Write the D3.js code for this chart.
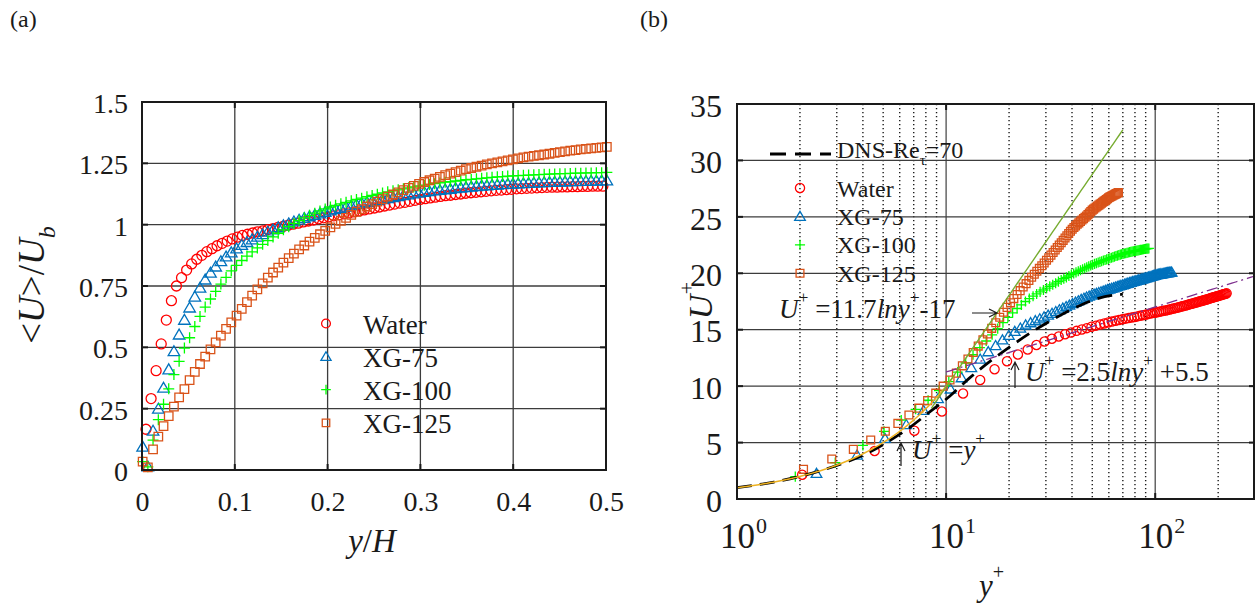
<!DOCTYPE html>
<html>
<head>
<meta charset="utf-8">
<script src="https://cdn.jsdelivr.net/npm/d3@7"></script>
<style>
  html, body { margin: 0; padding: 0; background: #fff; }
  svg { display: block; }
  text { white-space: pre; }
</style>
</head>
<body>
<svg id="fig" width="1256" height="604"></svg>
<script>
// ------------------------------------------------------------------
// Data
// ------------------------------------------------------------------
const seriesNames = ["Water", "XG-75", "XG-100", "XG-125"];

// (a) mean streamwise velocity across the half channel
const yHWater = [0.0043,0.0098,0.0152,0.0207,0.0262,0.0317,0.0371,0.0426,0.0481,0.0535,
  0.0590,0.0645,0.0699,0.0754,0.0809,0.0864,0.0918,0.0973,0.1028,0.1082,
  0.1137,0.1192,0.1246,0.1301,0.1356,0.1411,0.1465,0.1520,0.1575,0.1629,
  0.1684,0.1739,0.1793,0.1848,0.1903,0.1958,0.2012,0.2067,0.2122,0.2176,
  0.2231,0.2286,0.2340,0.2395,0.2450,0.2505,0.2559,0.2614,0.2669,0.2723,
  0.2778,0.2833,0.2887,0.2942,0.2997,0.3052,0.3106,0.3161,0.3216,0.3270,
  0.3325,0.3380,0.3434,0.3489,0.3544,0.3599,0.3653,0.3708,0.3763,0.3817,
  0.3872,0.3927,0.3981,0.4036,0.4091,0.4146,0.4200,0.4255,0.4310,0.4364,
  0.4419,0.4474,0.4528,0.4583,0.4638,0.4693,0.4747,0.4802,0.4857,0.4911,
  0.4966];
const uWater = [0.166,0.291,0.405,0.514,0.611,0.690,0.750,0.784,0.815,0.840,
  0.859,0.875,0.890,0.902,0.914,0.924,0.933,0.942,0.949,0.956,
  0.961,0.966,0.971,0.975,0.980,0.984,0.989,0.993,0.998,1.002,
  1.006,1.011,1.015,1.019,1.024,1.028,1.032,1.036,1.040,1.044,
  1.048,1.052,1.056,1.060,1.064,1.068,1.072,1.076,1.080,1.084,
  1.088,1.091,1.095,1.099,1.103,1.106,1.109,1.112,1.115,1.118,
  1.120,1.123,1.125,1.128,1.130,1.132,1.134,1.136,1.138,1.140,
  1.141,1.143,1.144,1.146,1.147,1.148,1.149,1.150,1.151,1.152,
  1.153,1.153,1.154,1.154,1.155,1.155,1.156,1.156,1.157,1.157,
  1.157];

const yHXG = [0.0007,0.0063,0.0119,0.0176,0.0232,0.0288,0.0344,0.0400,0.0457,0.0513,
  0.0569,0.0625,0.0681,0.0738,0.0794,0.0850,0.0906,0.0962,0.1019,0.1075,
  0.1131,0.1187,0.1243,0.1300,0.1356,0.1412,0.1468,0.1524,0.1581,0.1637,
  0.1693,0.1749,0.1805,0.1862,0.1918,0.1974,0.2030,0.2086,0.2143,0.2199,
  0.2255,0.2311,0.2367,0.2424,0.2480,0.2536,0.2592,0.2648,0.2705,0.2761,
  0.2817,0.2873,0.2929,0.2986,0.3042,0.3098,0.3154,0.3210,0.3267,0.3323,
  0.3379,0.3435,0.3491,0.3548,0.3604,0.3660,0.3716,0.3772,0.3829,0.3885,
  0.3941,0.3997,0.4053,0.4110,0.4166,0.4222,0.4278,0.4334,0.4391,0.4447,
  0.4503,0.4559,0.4615,0.4672,0.4728,0.4784,0.4840,0.4896,0.4953,0.5009];
const uXG75 = [0.095,0.014,0.160,0.250,0.335,0.410,0.484,0.552,0.612,0.662,
  0.706,0.743,0.776,0.804,0.829,0.851,0.870,0.887,0.903,0.917,
  0.929,0.940,0.951,0.961,0.971,0.980,0.989,0.997,1.005,1.013,
  1.020,1.027,1.034,1.040,1.046,1.052,1.058,1.063,1.068,1.073,
  1.078,1.083,1.088,1.092,1.096,1.100,1.104,1.108,1.112,1.116,
  1.120,1.123,1.127,1.130,1.133,1.136,1.139,1.141,1.144,1.146,
  1.149,1.151,1.153,1.155,1.157,1.159,1.160,1.162,1.163,1.165,
  1.166,1.167,1.168,1.169,1.170,1.171,1.172,1.173,1.174,1.175,
  1.175,1.176,1.177,1.177,1.178,1.178,1.179,1.179,1.180,1.180];
const uXG100 = [0.034,0.013,0.122,0.205,0.268,0.331,0.389,0.443,0.497,0.539,
  0.585,0.626,0.664,0.697,0.728,0.758,0.785,0.812,0.834,0.854,
  0.872,0.889,0.905,0.920,0.935,0.950,0.965,0.979,0.992,1.005,
  1.017,1.028,1.038,1.047,1.056,1.064,1.072,1.079,1.085,1.091,
  1.097,1.103,1.108,1.114,1.119,1.124,1.129,1.134,1.138,1.142,
  1.146,1.150,1.154,1.158,1.161,1.164,1.167,1.170,1.173,1.175,
  1.178,1.180,1.183,1.185,1.187,1.189,1.191,1.193,1.195,1.196,
  1.198,1.199,1.200,1.201,1.202,1.203,1.204,1.205,1.206,1.207,
  1.208,1.208,1.209,1.210,1.210,1.211,1.211,1.212,1.212,1.213];
const uXG125 = [0.034,0.011,0.084,0.136,0.179,0.220,0.258,0.296,0.330,0.366,
  0.400,0.432,0.462,0.492,0.520,0.548,0.575,0.602,0.629,0.657,
  0.684,0.711,0.736,0.761,0.784,0.805,0.825,0.845,0.864,0.882,
  0.899,0.915,0.931,0.946,0.961,0.975,0.989,1.003,1.016,1.028,
  1.040,1.052,1.063,1.074,1.084,1.094,1.104,1.114,1.123,1.132,
  1.141,1.150,1.158,1.166,1.174,1.181,1.188,1.195,1.202,1.208,
  1.214,1.220,1.226,1.231,1.236,1.241,1.246,1.250,1.254,1.258,
  1.262,1.266,1.270,1.274,1.277,1.280,1.283,1.286,1.289,1.293,
  1.296,1.299,1.302,1.304,1.307,1.309,1.311,1.313,1.315,1.317];

// (b) the same profiles in wall units
const ypWater = [2.05,4.55,7.05,9.55,12.05,14.55,17.05,19.55,22.05,24.55,
  27.05,29.55,32.05,34.55,37.05,39.55,42.05,44.55,47.05,49.55,
  52.05,54.55,57.05,59.55,62.05,64.55,67.05,69.55,72.05,74.55,
  77.05,79.55,82.05,84.55,87.05,89.55,92.05,94.55,97.05,99.55,
  102.05,104.55,107.05,109.55,112.05,114.55,117.05,119.55,122.05,124.55,
  127.05,129.55,132.05,134.55,137.05,139.55,142.05,144.55,147.05,149.55,
  152.05,154.55,157.05,159.55,162.05,164.55,167.05,169.55,172.05,174.55,
  177.05,179.55,182.05,184.55,187.05,189.55,192.05,194.55,197.05,199.55,
  202.05,204.55,207.05,209.55,212.05,214.55,217.05,219.55];
const upWater = [2.15,4.25,6.05,7.75,9.35,10.55,11.50,12.20,12.80,13.25,
  13.65,13.95,14.20,14.40,14.60,14.75,14.90,15.02,15.14,15.26,
  15.36,15.46,15.55,15.64,15.72,15.79,15.86,15.92,15.98,16.03,
  16.08,16.13,16.18,16.23,16.28,16.33,16.38,16.43,16.47,16.51,
  16.55,16.59,16.63,16.67,16.71,16.75,16.79,16.83,16.87,16.91,
  16.95,16.99,17.03,17.07,17.11,17.15,17.19,17.23,17.27,17.30,
  17.34,17.38,17.41,17.45,17.49,17.52,17.56,17.59,17.63,17.66,
  17.70,17.73,17.77,17.80,17.83,17.87,17.90,17.93,17.96,17.99,
  18.02,18.05,18.08,18.11,18.14,18.17,18.19,18.22];

const ypXG75 = [2.40,3.75,5.10,6.45,7.80,9.15,10.50,11.85,13.20,14.55,
  15.90,17.25,18.60,19.95,21.30,22.65,24.00,25.35,26.70,28.05,
  29.40,30.75,32.10,33.45,34.80,36.15,37.50,38.85,40.20,41.55,
  42.90,44.25,45.60,46.95,48.30,49.65,51.00,52.35,53.70,55.05,
  56.40,57.75,59.10,60.45,61.80,63.15,64.50,65.85,67.20,68.55,
  69.90,71.25,72.60,73.95,75.30,76.65,78.00,79.35,80.70,82.05,
  83.40,84.75,86.10,87.45,88.80,90.15,91.50,92.85,94.20,95.55,
  96.90,98.25,99.60,100.95,102.30,103.65,105.00,106.35,107.70,109.05,
  110.40,111.75,113.10,114.45,115.80,117.15,118.50,119.85];
const upXG75 = [2.27,3.90,5.37,6.60,7.85,8.90,9.75,10.75,11.65,12.40,
  13.05,13.60,14.10,14.50,14.85,15.15,15.42,15.62,15.80,15.97,
  16.13,16.29,16.45,16.61,16.77,16.91,17.05,17.18,17.31,17.44,
  17.56,17.68,17.79,17.89,17.98,18.07,18.15,18.22,18.29,18.36,
  18.42,18.48,18.55,18.61,18.67,18.72,18.78,18.83,18.88,18.93,
  18.98,19.03,19.08,19.12,19.17,19.21,19.26,19.30,19.34,19.38,
  19.41,19.45,19.48,19.52,19.55,19.59,19.62,19.66,19.69,19.73,
  19.76,19.80,19.83,19.86,19.88,19.90,19.92,19.94,19.96,19.98,
  20.00,20.02,20.04,20.05,20.07,20.08,20.09,20.10];

const ypXG100 = [1.90,2.95,4.00,5.05,6.10,7.15,8.20,9.25,10.30,11.35,
  12.40,13.45,14.50,15.55,16.60,17.65,18.70,19.75,20.80,21.85,
  22.90,23.95,25.00,26.05,27.10,28.15,29.20,30.25,31.30,32.35,
  33.40,34.45,35.50,36.55,37.60,38.65,39.70,40.75,41.80,42.85,
  43.90,44.95,46.00,47.05,48.10,49.15,50.20,51.25,52.30,53.35,
  54.40,55.45,56.50,57.55,58.60,59.65,60.70,61.75,62.80,63.85,
  64.90,65.95,67.00,68.05,69.10,70.15,71.20,72.25,73.30,74.35,
  75.40,76.45,77.50,78.55,79.60,80.65,81.70,82.75,83.80,84.85,
  85.90,86.95,88.00,89.05,90.10,91.15,92.20,93.25];
const upXG100 = [1.98,3.22,4.75,6.00,7.00,7.95,8.75,9.60,10.40,11.25,
  12.05,12.78,13.42,14.00,14.55,15.10,15.62,16.10,16.50,16.88,
  17.20,17.50,17.76,17.97,18.17,18.35,18.52,18.68,18.84,18.98,
  19.12,19.26,19.40,19.52,19.64,19.76,19.88,19.98,20.08,20.18,
  20.27,20.36,20.45,20.53,20.61,20.69,20.76,20.83,20.89,20.95,
  21.01,21.07,21.13,21.18,21.23,21.28,21.33,21.38,21.43,21.48,
  21.53,21.57,21.61,21.65,21.69,21.72,21.75,21.78,21.81,21.84,
  21.87,21.90,21.92,21.95,21.97,21.99,22.01,22.03,22.05,22.07,
  22.09,22.11,22.13,22.15,22.16,22.18,22.19,22.20];

const ypXG125 = [2.08,2.84,3.60,4.36,5.12,5.88,6.64,7.40,8.16,8.92,
  9.68,10.44,11.20,11.96,12.72,13.48,14.24,15.00,15.76,16.52,
  17.28,18.04,18.80,19.56,20.32,21.08,21.84,22.60,23.36,24.12,
  24.88,25.64,26.40,27.16,27.92,28.68,29.44,30.20,30.96,31.72,
  32.48,33.24,34.00,34.76,35.52,36.28,37.04,37.80,38.56,39.32,
  40.08,40.84,41.60,42.36,43.12,43.88,44.64,45.40,46.16,46.92,
  47.68,48.44,49.20,49.96,50.72,51.48,52.24,53.00,53.76,54.52,
  55.28,56.04,56.80,57.56,58.32,59.08,59.84,60.60,61.36,62.12,
  62.88,63.64,64.40,65.16,65.92,66.68];
const upXG125 = [2.63,3.55,4.40,5.23,6.00,6.70,7.44,8.05,8.72,9.38,
  10.00,10.55,11.15,11.80,12.40,12.98,13.55,14.10,14.62,15.12,
  15.62,16.10,16.55,16.98,17.38,17.76,18.12,18.46,18.78,19.08,
  19.37,19.65,19.92,20.18,20.43,20.67,20.91,21.15,21.38,21.61,
  21.84,22.06,22.28,22.50,22.71,22.92,23.13,23.33,23.53,23.72,
  23.90,24.06,24.20,24.34,24.47,24.60,24.72,24.84,24.96,25.08,
  25.20,25.33,25.47,25.60,25.69,25.78,25.87,25.96,26.04,26.13,
  26.21,26.29,26.37,26.45,26.53,26.61,26.69,26.75,26.80,26.86,
  26.91,26.96,27.01,27.06,27.11,27.15];

// DNS profile, Re_tau = 70
const dnsYp = [1, 1.5, 2, 2.5, 3.2, 4.2, 5.4, 6.6, 8.2, 10.4, 13, 16.5, 20.6, 25.2, 30, 35, 40, 45, 50, 55, 60, 66.7, 70];
const dnsUp = [1.0, 1.5, 2.0, 2.5, 3.15, 4.05, 5.2, 6.25, 7.6, 9.1, 10.75, 12.3, 13.6, 14.7, 15.55, 16.25, 16.8, 17.25, 17.6, 17.85, 18.0, 18.1, 18.15];

// wall laws: viscous sublayer, log law, fitted log line for XG-125
const viscousRange = [1, 11];
const logLawCoef = [2.5, 5.5];
const logLawRange = [10, 300];
const fitLawCoef = [11.7, -17];
const fitLawRange = [8.5, 70];

// ticks
const aXTicks = [0, 0.1, 0.2, 0.3, 0.4, 0.5];
const aYTicks = [0, 0.25, 0.5, 0.75, 1, 1.25, 1.5];
const bXTicks = [1, 10, 100];
const bXMinor = [2, 3, 4, 5, 6, 7, 8, 9, 20, 30, 40, 50, 60, 70, 80, 90, 200];
const bYTicks = [0, 5, 10, 15, 20, 25, 30, 35];

// ------------------------------------------------------------------
// Styling helpers
// ------------------------------------------------------------------
const SERIF = '"Liberation Serif","Times New Roman",Times,serif';
const INK = "#1a1a1a";
const seriesStyle = [
  { color: "#ff0000", marker: "circle" },
  { color: "#0072bd", marker: "triangle" },
  { color: "#00ff00", marker: "plus" },
  { color: "#d95319", marker: "square" }
];

function markerPath(type, s) {
  switch (type) {
    case "circle":
      return `M${s},0A${s},${s} 0 1,1 ${-s},0A${s},${s} 0 1,1 ${s},0Z`;
    case "triangle":
      return `M0,${-s}L${s * 1.05},${s * 0.8}L${-s * 1.05},${s * 0.8}Z`;
    case "plus":
      return `M${-s},0H${s}M0,${-s}V${s}`;
    case "square":
      return `M${-s},${-s}H${s}V${s}H${-s}Z`;
  }
}
const markerScale = { circle: 1, triangle: 1.1, plus: 1.1, square: 0.85 };

// text with italic parts, superscripts and subscripts
function richText(g, x, y, parts, size, opts = {}) {
  const t = g.append("text")
    .attr("x", x).attr("y", y)
    .attr("font-family", SERIF)
    .attr("font-size", size)
    .attr("fill", INK)
    .attr("text-anchor", opts.anchor || "start");
  if (opts.transform) t.attr("transform", opts.transform);
  let shift = 0;
  parts.forEach(p => {
    const ts = t.append("tspan").text(p.t);
    let target = 0;
    if (p.sup) target = -(opts.supShift || 0.55) * size;
    if (p.sub) target = 0.3 * size;
    if (p.sup || p.sub) ts.attr("font-size", size * (opts.scriptScale || 0.65));
    if (target !== shift) { ts.attr("dy", target - shift); shift = target; }
    if (p.it) ts.attr("font-style", "italic");
    if (p.dx) ts.attr("dx", p.dx);
  });
  return t;
}

const svg = d3.select("#fig");
svg.append("rect").attr("width", 1256).attr("height", 604).attr("fill", "#fff");

function drawMarkers(g, xs, ys, xScale, yScale, st, size) {
  const pts = d3.zip(xs, ys).filter(d => d[1] != null);
  g.append("g").selectAll("path").data(pts).join("path")
    .attr("transform", d => `translate(${xScale(d[0])},${yScale(d[1])})`)
    .attr("d", markerPath(st.marker, size * markerScale[st.marker]))
    .attr("fill", "none")
    .attr("stroke", st.color)
    .attr("stroke-width", 1.3);
}

function frameTicks(g, xScale, yScale, xt, yt, len) {
  const [x0, x1] = xScale.range();
  const [y1, y0] = yScale.range();
  const tk = g.append("g").attr("stroke", INK).attr("stroke-width", 2);
  yt.forEach(v => {
    tk.append("line").attr("x1", x0).attr("x2", x0 + len).attr("y1", yScale(v)).attr("y2", yScale(v));
    tk.append("line").attr("x1", x1 - len).attr("x2", x1).attr("y1", yScale(v)).attr("y2", yScale(v));
  });
  xt.forEach(v => {
    tk.append("line").attr("y1", y1).attr("y2", y1 - len).attr("x1", xScale(v)).attr("x2", xScale(v));
    tk.append("line").attr("y1", y0).attr("y2", y0 + len).attr("x1", xScale(v)).attr("x2", xScale(v));
  });
}

// ------------------------------------------------------------------
// (a) <U>/U_b versus y/H
// ------------------------------------------------------------------
const xA = d3.scaleLinear().domain([0, 0.5]).range([142, 606]);
const yA = d3.scaleLinear().domain([0, 1.5]).range([470, 102]);
const gA = svg.append("g");

// grid
gA.append("g").selectAll("line").data(aXTicks.slice(1, -1)).join("line")
  .attr("x1", d => xA(d)).attr("x2", d => xA(d))
  .attr("y1", yA.range()[1]).attr("y2", yA.range()[0])
  .attr("stroke", "#3c3c3c").attr("stroke-width", 1.3);
gA.append("g").selectAll("line").data(aYTicks.slice(1, -1)).join("line")
  .attr("y1", d => yA(d)).attr("y2", d => yA(d))
  .attr("x1", xA.range()[0]).attr("x2", xA.range()[1])
  .attr("stroke", "#3c3c3c").attr("stroke-width", 1.3);
frameTicks(gA, xA, yA, aXTicks.slice(1, -1), aYTicks.slice(1, -1), 6);

// axes labels via d3 axes
gA.append("g").attr("transform", `translate(${xA.range()[0]},0)`)
  .call(d3.axisLeft(yA).tickValues(aYTicks).tickSize(0).tickPadding(14).tickFormat(d => String(d)))
  .call(g => g.select(".domain").remove())
  .attr("font-family", SERIF).attr("font-size", 28)
  .call(g => g.selectAll("text").attr("fill", INK).attr("dy", "0.38em"));
gA.append("g").attr("transform", `translate(0,${yA.range()[0]})`)
  .call(d3.axisBottom(xA).tickValues(aXTicks).tickSize(0).tickPadding(21).tickFormat(d => String(d)))
  .call(g => g.select(".domain").remove())
  .attr("font-family", SERIF).attr("font-size", 28)
  .call(g => g.selectAll("text").attr("fill", INK));

// data
const aData = [[yHWater, uWater], [yHXG, uXG75], [yHXG, uXG100], [yHXG, uXG125]];
aData.forEach((d, i) => drawMarkers(gA, d[0], d[1], xA, yA, seriesStyle[i], 5));

// box
gA.append("rect")
  .attr("x", xA.range()[0]).attr("y", yA.range()[1])
  .attr("width", xA.range()[1] - xA.range()[0]).attr("height", yA.range()[0] - yA.range()[1])
  .attr("fill", "none").attr("stroke", INK).attr("stroke-width", 2);

// legend
seriesNames.forEach((name, i) => {
  const y = 323.5 + 33.1 * i;
  const st = seriesStyle[i];
  gA.append("path").attr("transform", `translate(326,${y})`)
    .attr("d", markerPath(st.marker, 4.4 * markerScale[st.marker]))
    .attr("fill", "none").attr("stroke", st.color).attr("stroke-width", 1.3);
  gA.append("text").attr("x", 363).attr("y", y + 10).text(name)
    .attr("font-family", SERIF).attr("font-size", 27).attr("fill", INK);
});

// titles
richText(gA, 372, 552, [{ t: "y", it: true }, { t: "/" }, { t: "H", it: true }], 33, { anchor: "middle" });
richText(gA, 0, 0, [{ t: "<" }, { t: "U", it: true }, { t: ">/" }, { t: "U", it: true }, { t: "b", it: true, sub: true }], 37,
  { anchor: "middle", transform: "translate(44,285) rotate(-90)" });
gA.append("text").attr("x", 10).attr("y", 27).text("(a)")
  .attr("font-family", SERIF).attr("font-size", 24).attr("fill", INK);

// ------------------------------------------------------------------
// (b) U+ versus y+
// ------------------------------------------------------------------
const xB = d3.scaleLog().domain([1, 300]).range([737, 1255]);
const yB = d3.scaleLinear().domain([0, 35]).range([499, 104]);
const gB = svg.append("g");

// grid
gB.append("g").selectAll("line").data(bXMinor).join("line")
  .attr("x1", d => xB(d)).attr("x2", d => xB(d))
  .attr("y1", yB.range()[1]).attr("y2", yB.range()[0])
  .attr("stroke", "#1a1a1a").attr("stroke-width", 1.4).attr("stroke-dasharray", "1.3,2.7");
gB.append("g").selectAll("line").data(bXTicks.slice(1)).join("line")
  .attr("x1", d => xB(d)).attr("x2", d => xB(d))
  .attr("y1", yB.range()[1]).attr("y2", yB.range()[0])
  .attr("stroke", "#5a5a5a").attr("stroke-width", 1.4);
gB.append("g").selectAll("line").data(bYTicks.slice(1, -1)).join("line")
  .attr("y1", d => yB(d)).attr("y2", d => yB(d))
  .attr("x1", xB.range()[0]).attr("x2", xB.range()[1])
  .attr("stroke", "#3c3c3c").attr("stroke-width", 1.3);
frameTicks(gB, xB, yB, bXTicks.slice(1), bYTicks.slice(1, -1), 6);

gB.append("g").attr("transform", `translate(${xB.range()[0]},0)`)
  .call(d3.axisLeft(yB).tickValues(bYTicks).tickSize(0).tickPadding(15).tickFormat(d => String(d)))
  .call(g => g.select(".domain").remove())
  .attr("font-family", SERIF).attr("font-size", 32)
  .call(g => g.selectAll("text").attr("fill", INK).attr("dy", "0.38em"));
// decade labels 10^n: base centred on the tick, exponent raised after it
gB.append("g").attr("transform", `translate(0,${yB.range()[0]})`)
  .call(d3.axisBottom(xB).tickValues(bXTicks).tickSize(0).tickFormat(() => ""))
  .call(g => g.select(".domain").remove())
  .call(g => g.selectAll(".tick text").remove())
  .call(g => g.selectAll(".tick").each(function (d) {
    const lbl = d3.select(this).append("text")
      .attr("x", -17.5).attr("y", 49).attr("text-anchor", "start")
      .attr("font-family", SERIF).attr("font-size", 35).attr("fill", INK);
    lbl.append("tspan").text("10");
    lbl.append("tspan").attr("dx", 1).attr("dy", -15).attr("font-size", 22)
      .text(String(Math.round(Math.log10(d))));
  }));

// data markers
const bData = [[ypWater, upWater], [ypXG75, upXG75], [ypXG100, upXG100], [ypXG125, upXG125]];
bData.forEach((d, i) => drawMarkers(gB, d[0], d[1], xB, yB, seriesStyle[i], 4.6));

// reference curves
const lineB = d3.line().x(d => xB(d[0])).y(d => yB(d[1]));
const logSpan = (r, n) => d3.range(n + 1).map(i => r[0] * Math.pow(r[1] / r[0], i / n));

gB.append("path").datum(d3.zip(dnsYp, dnsUp))
  .attr("d", lineB.curve(d3.curveMonotoneX))
  .attr("fill", "none").attr("stroke", "#000").attr("stroke-width", 2.8)
  .attr("stroke-dasharray", "15,8");
lineB.curve(d3.curveLinear);
gB.append("path").datum(logSpan(viscousRange, 60).map(y => [y, y]))
  .attr("d", lineB).attr("fill", "none").attr("stroke", "#edb120").attr("stroke-width", 1.5);
gB.append("path").datum(logSpan(logLawRange, 80).map(y => [y, logLawCoef[0] * Math.log(y) + logLawCoef[1]]))
  .attr("d", lineB).attr("fill", "none").attr("stroke", "#7e2f8e").attr("stroke-width", 1.3)
  .attr("stroke-dasharray", "11,4,2,4");
gB.append("path").datum(logSpan(fitLawRange, 60).map(y => [y, fitLawCoef[0] * Math.log(y) + fitLawCoef[1]]))
  .attr("d", lineB).attr("fill", "none").attr("stroke", "#77ac30").attr("stroke-width", 1.4);

// box
gB.append("rect")
  .attr("x", xB.range()[0]).attr("y", yB.range()[1])
  .attr("width", xB.range()[1] - xB.range()[0] - 1).attr("height", yB.range()[0] - yB.range()[1])
  .attr("fill", "none").attr("stroke", INK).attr("stroke-width", 2);

// legend
gB.append("line").attr("x1", 770).attr("x2", 831).attr("y1", 154).attr("y2", 154)
  .attr("stroke", "#000").attr("stroke-width", 2.8).attr("stroke-dasharray", "16,9");
richText(gB, 837, 158, [{ t: "DNS-Re" }, { t: "τ", sub: true }, { t: "=70" }], 24, { scriptScale: 0.62 });
seriesNames.forEach((name, i) => {
  const y = 188 + 28.4 * i;
  const st = seriesStyle[i];
  gB.append("path").attr("transform", `translate(800,${y})`)
    .attr("d", markerPath(st.marker, 4.6 * markerScale[st.marker]))
    .attr("fill", "none").attr("stroke", st.color).attr("stroke-width", 1.3);
  gB.append("text").attr("x", 837).attr("y", y + 8.5).text(name)
    .attr("font-family", SERIF).attr("font-size", 24).attr("fill", INK);
});

// annotations
const arrows = gB.append("g").attr("stroke", INK).attr("stroke-width", 1.2).attr("fill", "none");
richText(gB, 779, 318, [{ t: "U", it: true }, { t: "+", sup: true }, { t: " =11.7" }, { t: "lny", it: true }, { t: "+", sup: true }, { t: "-17" }], 27);
arrows.append("path").attr("d", "M972,313H997M989,309L997,313L989,317");
richText(gB, 1025, 381, [{ t: "U", it: true }, { t: "+", sup: true }, { t: " =2.5" }, { t: "lny", it: true }, { t: "+", sup: true }, { t: " +5.5" }], 27);
arrows.append("path").attr("d", "M1015,388V362M1011,370L1015,362L1019,370");
richText(gB, 912, 459, [{ t: "U", it: true }, { t: "+", sup: true }, { t: " =" }, { t: "y", it: true }, { t: "+", sup: true }], 27);
arrows.append("path").attr("d", "M901,466V443M897,451L901,443L905,451");

// axis titles
richText(gB, 979, 596, [{ t: "y", it: true }, { t: "+", sup: true }], 31);
gB.append("text").attr("transform", "translate(712,307) rotate(-90)")
  .attr("text-anchor", "middle").attr("font-family", SERIF).attr("font-size", 34)
  .attr("font-style", "italic").attr("fill", INK).text("U");
gB.append("text").attr("transform", "translate(694,288) rotate(-90)")
  .attr("text-anchor", "middle").attr("font-family", SERIF).attr("font-size", 22)
  .attr("fill", INK).text("+");
gB.append("text").attr("x", 640).attr("y", 27).text("(b)")
  .attr("font-family", SERIF).attr("font-size", 24).attr("fill", INK);
</script>
</body>
</html>
